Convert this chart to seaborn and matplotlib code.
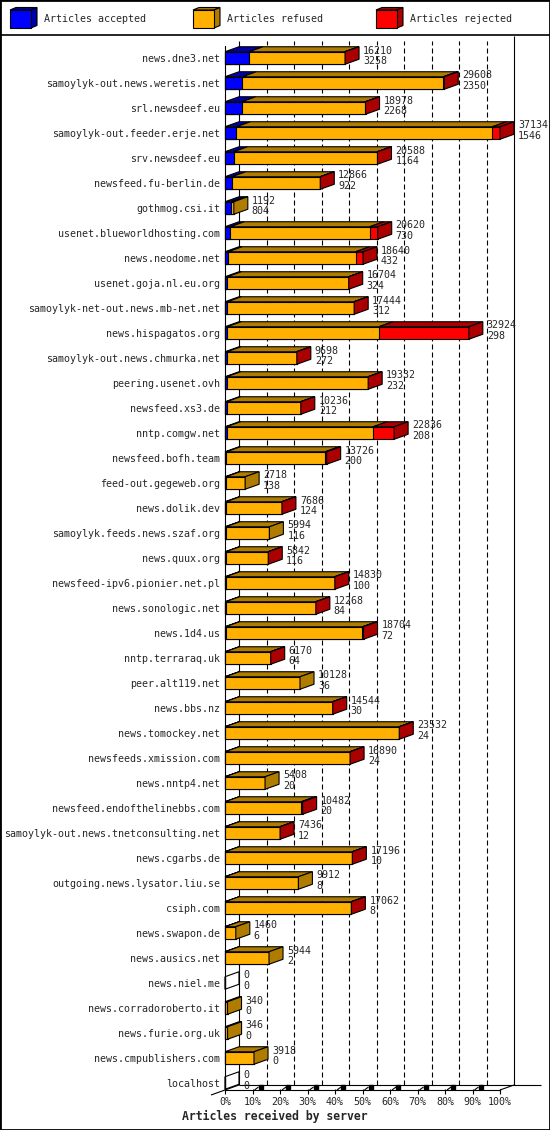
import matplotlib
matplotlib.use("Agg")
import matplotlib.pyplot as plt
from matplotlib.patches import Polygon, Rectangle
from matplotlib.lines import Line2D
import numpy as np
import pandas as pd
import seaborn as sns

# data (sorted by accepted articles)
servers = [
    "news.dne3.net", "samoylyk-out.news.weretis.net", "srl.newsdeef.eu",
    "samoylyk-out.feeder.erje.net", "srv.newsdeef.eu", "newsfeed.fu-berlin.de",
    "gothmog.csi.it", "usenet.blueworldhosting.com", "news.neodome.net",
    "usenet.goja.nl.eu.org", "samoylyk-net-out.news.mb-net.net", "news.hispagatos.org",
    "samoylyk-out.news.chmurka.net", "peering.usenet.ovh", "newsfeed.xs3.de",
    "nntp.comgw.net", "newsfeed.bofh.team", "feed-out.gegeweb.org", "news.dolik.dev",
    "samoylyk.feeds.news.szaf.org", "news.quux.org", "newsfeed-ipv6.pionier.net.pl",
    "news.sonologic.net", "news.1d4.us", "nntp.terraraq.uk", "peer.alt119.net",
    "news.bbs.nz", "news.tomockey.net", "newsfeeds.xmission.com", "news.nntp4.net",
    "newsfeed.endofthelinebbs.com", "samoylyk-out.news.tnetconsulting.net",
    "news.cgarbs.de", "outgoing.news.lysator.liu.se", "csiph.com", "news.swapon.de",
    "news.ausics.net", "news.niel.me", "news.corradoroberto.it", "news.furie.org.uk",
    "news.cmpublishers.com", "localhost",
]
received = [16210, 29608, 18978, 37134, 20588, 12866, 1192, 20620, 18640, 16704,
            17444, 32924, 9698, 19332, 10236, 22836, 13726, 2718, 7686, 5994,
            5842, 14830, 12268, 18704, 6170, 10128, 14544, 23532, 16890, 5408,
            10482, 7436, 17196, 9912, 17062, 1460, 5944, 0, 340, 346, 3918, 0]
accepted = [3258, 2350, 2268, 1546, 1164, 922, 804, 730, 432, 324,
            312, 298, 272, 232, 212, 208, 200, 138, 124, 116,
            116, 100, 84, 72, 64, 36, 30, 24, 24, 20,
            20, 12, 10, 8, 8, 6, 2, 0, 0, 0, 0, 0]
rejected = [40, 150, 30, 1040, 30, 20, 0, 1080, 990, 20,
            20, 12150, 20, 20, 20, 2835, 200, 0, 20, 0,
            20, 20, 20, 150, 20, 0, 20, 20, 20, 0,
            200, 20, 20, 0, 20, 0, 0, 0, 0, 0, 0, 0]
refused = [t - a - r for t, a, r in zip(received, accepted, rejected)]

percent_labels = [f"{p}%" for p in range(0, 101, 10)]
legend_labels = ["Articles accepted", "Articles refused", "Articles rejected"]

BLUE, BLUE_D = "#0000ff", "#0000a8"
ORANGE, ORANGE_D = "#ffb000", "#b07c00"
RED, RED_D = "#ff0000", "#aa0000"
LW = 0.8

sns.set_style("white")
plt.rcParams["font.family"] = ["DejaVu Sans Mono"]
plt.rcParams["font.size"] = 7.2

W, H = 550, 1130
fig = plt.figure(figsize=(W / 100, H / 100), dpi=100)

# front plane of the 3d plot, in pixels
L, R, T, B = 225, 500, 46, 1090
ax = fig.add_axes([L / W, 1 - B / H, (R - L) / W, (B - T) / H])

df = pd.DataFrame({"server": servers, "accepted": accepted,
                   "refused": refused, "rejected": rejected, "received": received})
df["acc_ref"] = df["accepted"] + df["refused"]

# stacked bars: draw cumulative totals, largest first
bar_kw = dict(data=df, y="server", orient="h", width=0.5, saturation=1,
              edgecolor="black", linewidth=LW, errorbar=None, ax=ax, zorder=3)
sns.barplot(x="received", color=RED, **bar_kw)
sns.barplot(x="acc_ref", color=ORANGE, **bar_kw)
sns.barplot(x="accepted", color=BLUE, **bar_kw)
for p in ax.patches:
    p.set_clip_on(False)

n = len(servers)
xmax = max(received)
y_bottom = n - 1 + (B - 1083) / 25
y_top = -(58 - T) / 25
ax.set_xlim(0, xmax)
ax.set_ylim(y_bottom, y_top)

# pixel -> data conversions for the 3d depth
px2x = xmax / (R - L)
px2y = (y_bottom - y_top) / (B - T)
DX, DY = 14 * px2x, 5 * px2y

line_kw = dict(color="black", lw=LW, clip_on=False, solid_capstyle="butt")

# back wall and floor
yfb = y_bottom - DY
ax.plot([DX, DX], [yfb, y_top - DY], zorder=1, **line_kw)
ax.plot([xmax + DX, xmax + DX], [yfb, y_top - 10 * px2y], zorder=1, **line_kw)
for k in range(1, 10):
    xk = xmax * k / 10 + DX
    ax.plot([xk, xk], [yfb, y_top - DY], zorder=1, color="black", lw=LW,
            linestyle=(0, (4.5, 2.7)), clip_on=False)
ax.plot([DX, xmax + DX + 27 * px2x], [yfb, yfb], zorder=1, **line_kw)
ax.plot([-DX, DX], [y_bottom + DY, yfb], zorder=1, **line_kw)
ax.plot([xmax, xmax + DX], [y_bottom, yfb], zorder=1, **line_kw)

# floor ticks
for k in range(11):
    xk = xmax * k / 10
    ax.plot([xk, xk], [y_bottom - px2y, y_bottom + 4 * px2y], zorder=2, **line_kw)
    if 0 < k < 10:
        ax.plot([xk + 2 * px2x, xk + 6 * px2x], [y_bottom, y_bottom - 3 * px2y],
                zorder=2, **line_kw)
        ax.plot([xk + 8 * px2x], [y_bottom - 3.5 * px2y], marker="s", ms=2.4,
                color="black", clip_on=False, zorder=2)

# top and side faces of each bar
for i, (a, r, j) in enumerate(zip(accepted, refused, rejected)):
    yt, yb = i - 0.25, i + 0.25
    start = 0
    last = "none"
    for size, dark in [(a, BLUE_D), (r, ORANGE_D), (j, RED_D)]:
        if size > 0:
            end = start + size
            ax.add_patch(Polygon([(start, yt), (end, yt), (end + DX, yt - DY),
                                  (start + DX, yt - DY)], closed=True,
                                 facecolor=dark, edgecolor="black", lw=LW,
                                 zorder=4, clip_on=False))
            last = dark
            start = end
    ax.add_patch(Polygon([(start, yt), (start, yb), (start + DX, yb - DY),
                          (start + DX, yt - DY)], closed=True, facecolor=last,
                         edgecolor="black", lw=LW, zorder=4, clip_on=False))

# value labels: received on top, accepted below
for i, (tot, a) in enumerate(zip(received, accepted)):
    x = tot + 18 * px2x
    ax.text(x, i - 4.5 * px2y, f"{tot}", ha="left", va="baseline", zorder=5)
    ax.text(x, i + 6.2 * px2y, f"{a}", ha="left", va="baseline", zorder=5)

sns.despine(ax=ax, top=True, right=True)
for side in ["left", "bottom"]:
    ax.spines[side].set_color("black")
    ax.spines[side].set_linewidth(LW)
    ax.spines[side].set_zorder(2)
ax.set_xticks(np.linspace(0, xmax, 11))
ax.set_xticklabels(percent_labels)
ax.tick_params(axis="x", length=0, pad=5)
ax.tick_params(axis="y", length=0, pad=3.6)
ax.set_xlabel("")
ax.set_ylabel("")

fig.text(275 / W, 1 - 1116 / H, "Articles received by server", ha="center",
         va="center", fontsize=8.3, fontweight="bold")

# legend strip with little cubes
lax = fig.add_axes([0, 1 - 35 / H, 1, 35 / H])
lax.set_xlim(0, W)
lax.set_ylim(35, 0)
lax.axis("off")
for x0, label, face, dark in zip([10, 193, 376], legend_labels,
                                 [BLUE, ORANGE, RED], [BLUE_D, ORANGE_D, RED_D]):
    lax.add_patch(Polygon([(x0, 10), (x0 + 21, 10), (x0 + 27, 7.5), (x0 + 6, 7.5)],
                          closed=True, facecolor=dark, edgecolor="black", lw=LW))
    lax.add_patch(Polygon([(x0 + 21, 10), (x0 + 21, 28), (x0 + 27, 25.5),
                           (x0 + 27, 7.5)], closed=True, facecolor=dark,
                          edgecolor="black", lw=LW))
    lax.add_patch(Rectangle((x0, 10), 21, 18, facecolor=face, edgecolor="black", lw=LW))
    lax.text(x0 + 34, 19, label, ha="left", va="center")

fig.add_artist(Line2D([0, 1], [1 - 35 / H, 1 - 35 / H], color="black", lw=1.2))
fig.add_artist(Rectangle((0, 0), 1, 1, transform=fig.transFigure, fill=False,
                         edgecolor="black", lw=2))

fig.savefig("out.png", dpi=100)
